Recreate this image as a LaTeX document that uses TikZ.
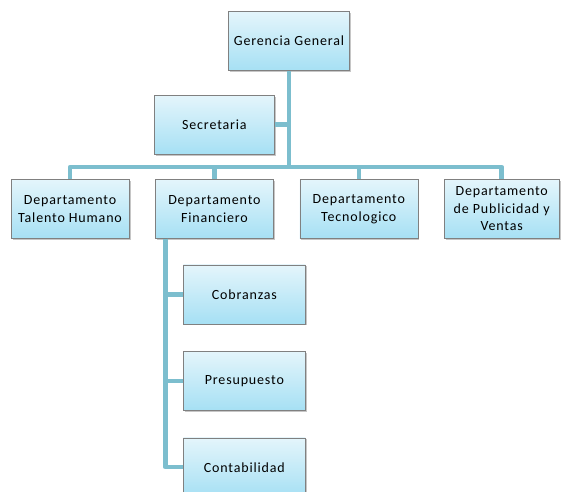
\documentclass[tikz,border=0pt]{standalone}
\usepackage{fontspec}
\setmainfont[LetterSpace=6]{Carlito}
\usetikzlibrary{
  positioning, % for relative positioning of the boxes
  shadows, % for the drop shadow under each box
}
\definecolor{boxtop}{RGB}{228,245,251}
\definecolor{boxbottom}{RGB}{166,224,244}
\definecolor{boxline}{RGB}{128,128,128}
\definecolor{linkcol}{RGB}{124,190,206}
\tikzset{
  unit/.style={ % style for each box of the chart
    rectangle,draw=boxline,thin, % drawn as a thin gray rectangle
    top color=boxtop,bottom color=boxbottom, % light blue gradient
    drop shadow={opacity=0.45,shadow xshift=1.5pt,shadow yshift=-1.5pt},
    minimum width=118pt,minimum height=59pt, % every box the same size
    inner sep=2pt,align=center,
    font=\fontsize{14}{17.5}\selectfont,
    node distance=26pt, % spacing between the boxes
  },
  link/.style={ % style for the connections
    draw=linkcol,line width=4.5pt,
    line join=round,
  },
}
\begin{document}
\begin{tikzpicture}
	\useasboundingbox (0,0) rectangle (562pt,-491pt);

	\node[unit,minimum width=121pt] (gg) at (289pt,-41pt) {Gerencia General};

	\node[unit] (tal) at (70pt,-209pt) {Departamento\\Talento Humano};
	\node[unit,right=of tal] (fin) {Departamento\\Financiero};
	\node[unit,right=of fin] (tec) {Departamento\\Tecnologico};
	\node[unit,right=of tec,minimum width=115pt] (pub) {Departamento\\de Publicidad y\\Ventas};

	\node[unit,minimum width=120pt,above=25pt of fin] (sec) {Secretaria};

	\node[unit,minimum width=122pt,below=26pt of fin,xshift=30pt] (cob) {Cobranzas};
	\node[unit,minimum width=122pt,below=27pt of cob] (pre) {Presupuesto};
	\node[unit,minimum width=122pt,below=27pt of pre] (con) {Contabilidad};

	\coordinate (bus) at (gg.south |- 0,-167pt);
	\coordinate (spine) at ([xshift=-49pt]fin.south);

	\draw[link] (gg.south) -- (bus);
	\draw[link] (sec.east) -- (sec.east -| bus);
	\foreach \d in {tal,fin,tec,pub}
		\draw[link] (bus) -| (\d.north);
	\foreach \s in {cob,pre,con}
		\draw[link] (spine) |- (\s.west);

\end{tikzpicture}
\end{document}
